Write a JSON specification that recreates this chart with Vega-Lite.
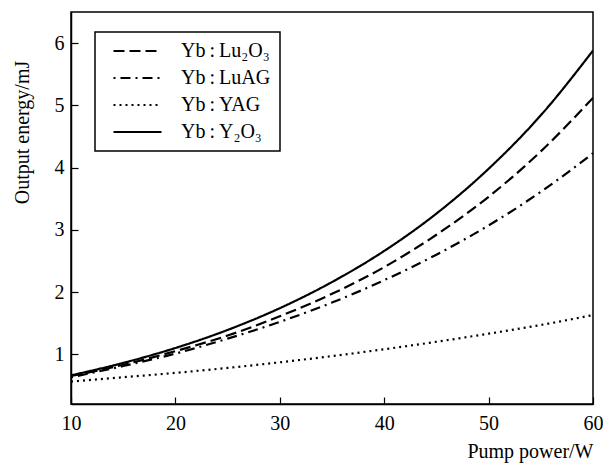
{
  "$schema": "https://vega.github.io/schema/vega-lite/v6.json",
  "width": 522,
  "height": 392,
  "autosize": "none",
  "padding": {"left": 71, "top": 12, "right": 10, "bottom": 60},
  "background": "white",
  "config": {
    "view": {"stroke": "black", "strokeWidth": 1.5},
    "font": "Liberation Serif",
    "axis": {
      "grid": false,
      "domainColor": "black",
      "domainWidth": 1.5,
      "tickColor": "black",
      "tickWidth": 1.2,
      "tickSize": -7,
      "labelFlush": false,
      "labelFont": "Liberation Serif",
      "labelFontSize": 20,
      "labelColor": "black",
      "titleFont": "Liberation Serif",
      "titleFontSize": 20,
      "titleFontWeight": "normal",
      "titleColor": "black"
    }
  },
  "data": {
    "values": [
      {"p": 10, "e": 0.65, "c": "Yb:Lu₂O₃"},
      {"p": 15, "e": 0.83, "c": "Yb:Lu₂O₃"},
      {"p": 20, "e": 1.05, "c": "Yb:Lu₂O₃"},
      {"p": 25, "e": 1.3, "c": "Yb:Lu₂O₃"},
      {"p": 30, "e": 1.61, "c": "Yb:Lu₂O₃"},
      {"p": 35, "e": 1.97, "c": "Yb:Lu₂O₃"},
      {"p": 40, "e": 2.4, "c": "Yb:Lu₂O₃"},
      {"p": 45, "e": 2.92, "c": "Yb:Lu₂O₃"},
      {"p": 50, "e": 3.53, "c": "Yb:Lu₂O₃"},
      {"p": 55, "e": 4.26, "c": "Yb:Lu₂O₃"},
      {"p": 60, "e": 5.12, "c": "Yb:Lu₂O₃"},
      {"p": 10, "e": 0.63, "c": "Yb:LuAG"},
      {"p": 15, "e": 0.81, "c": "Yb:LuAG"},
      {"p": 20, "e": 1.01, "c": "Yb:LuAG"},
      {"p": 25, "e": 1.25, "c": "Yb:LuAG"},
      {"p": 30, "e": 1.52, "c": "Yb:LuAG"},
      {"p": 35, "e": 1.83, "c": "Yb:LuAG"},
      {"p": 40, "e": 2.19, "c": "Yb:LuAG"},
      {"p": 45, "e": 2.6, "c": "Yb:LuAG"},
      {"p": 50, "e": 3.07, "c": "Yb:LuAG"},
      {"p": 55, "e": 3.61, "c": "Yb:LuAG"},
      {"p": 60, "e": 4.23, "c": "Yb:LuAG"},
      {"p": 10, "e": 0.56, "c": "Yb:YAG"},
      {"p": 15, "e": 0.63, "c": "Yb:YAG"},
      {"p": 20, "e": 0.7, "c": "Yb:YAG"},
      {"p": 25, "e": 0.78, "c": "Yb:YAG"},
      {"p": 30, "e": 0.87, "c": "Yb:YAG"},
      {"p": 35, "e": 0.97, "c": "Yb:YAG"},
      {"p": 40, "e": 1.08, "c": "Yb:YAG"},
      {"p": 45, "e": 1.2, "c": "Yb:YAG"},
      {"p": 50, "e": 1.33, "c": "Yb:YAG"},
      {"p": 55, "e": 1.47, "c": "Yb:YAG"},
      {"p": 60, "e": 1.63, "c": "Yb:YAG"},
      {"p": 10, "e": 0.66, "c": "Yb:Y₂O₃"},
      {"p": 15, "e": 0.86, "c": "Yb:Y₂O₃"},
      {"p": 20, "e": 1.1, "c": "Yb:Y₂O₃"},
      {"p": 25, "e": 1.39, "c": "Yb:Y₂O₃"},
      {"p": 30, "e": 1.74, "c": "Yb:Y₂O₃"},
      {"p": 35, "e": 2.16, "c": "Yb:Y₂O₃"},
      {"p": 40, "e": 2.66, "c": "Yb:Y₂O₃"},
      {"p": 45, "e": 3.26, "c": "Yb:Y₂O₃"},
      {"p": 50, "e": 3.98, "c": "Yb:Y₂O₃"},
      {"p": 55, "e": 4.84, "c": "Yb:Y₂O₃"},
      {"p": 60, "e": 5.88, "c": "Yb:Y₂O₃"}
    ]
  },
  "mark": {"type": "line", "interpolate": "monotone", "strokeWidth": 2.2, "color": "black", "clip": true},
  "encoding": {
    "x": {
      "field": "p",
      "type": "quantitative",
      "scale": {"domain": [10, 60], "nice": false, "zero": false},
      "axis": {
        "values": [10, 20, 30, 40, 50, 60],
        "labelPadding": 16,
        "title": "Pump power/W",
        "titleAnchor": "end",
        "titleAlign": "right",
        "titleX": 522,
        "titleY": 53,
        "titleBaseline": "alphabetic"
      }
    },
    "y": {
      "field": "e",
      "type": "quantitative",
      "scale": {"domain": [0.2, 6.5], "nice": false, "zero": false},
      "axis": {
        "values": [1, 2, 3, 4, 5, 6],
        "labelPadding": 14,
        "title": "Output energy/mJ",
        "titleAngle": -90,
        "titleAlign": "center",
        "titleBaseline": "middle",
        "titleX": -49,
        "titleY": 120
      }
    },
    "strokeDash": {
      "field": "c",
      "type": "nominal",
      "scale": {
        "domain": ["Yb:Lu₂O₃", "Yb:LuAG", "Yb:YAG", "Yb:Y₂O₃"],
        "range": [[11, 5], [2, 5, 10, 5], [2, 4], [1, 0]]
      },
      "legend": {
        "title": null,
        "orient": "none",
        "legendX": 24,
        "legendY": 20,
        "padding": 9,
        "symbolOffset": 8,
        "strokeColor": "black",
        "fillColor": "white",
        "symbolType": "stroke",
        "symbolSize": 2304,
        "clipHeight": 20,
        "symbolStrokeWidth": 2.2,
        "symbolStrokeColor": "black",
        "labelFont": "Liberation Serif",
        "labelFontSize": 20,
        "labelColor": "black",
        "labelOffset": 18,
        "rowPadding": 7,
        "labelLimit": 220,
        "labelExpr": "replace(datum.label, ':', '\u2009:\u2009')",
        "encode": {"legend": {"update": {"strokeWidth": {"value": 1.5}}}}
      }
    }
  }
}
